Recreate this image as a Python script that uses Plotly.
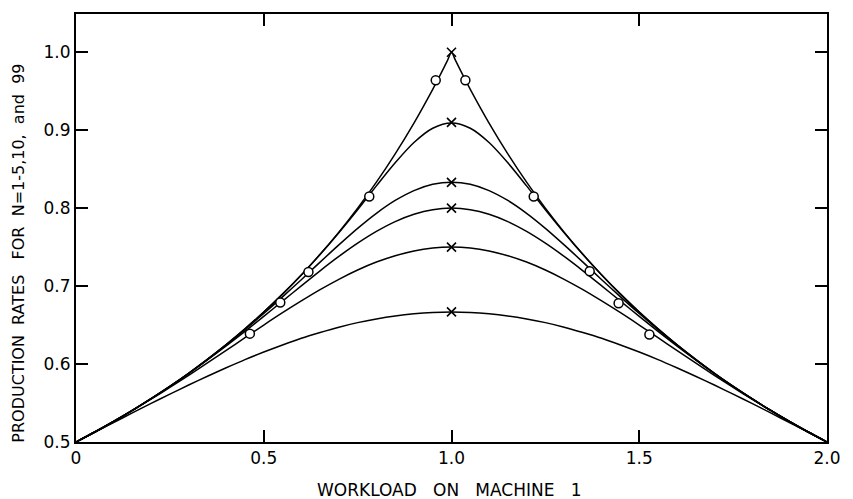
import plotly.graph_objects as go

# Workload on machine 1 (x) and production rates for each curve
workload = [0.0, 0.05, 0.1, 0.15, 0.2, 0.25, 0.3, 0.35, 0.4, 0.45, 0.5, 0.55, 0.6, 0.65, 0.7,
            0.75, 0.8, 0.85, 0.9, 0.95, 1.0, 1.05, 1.1, 1.15, 1.2, 1.25, 1.3, 1.35, 1.4, 1.45,
            1.5, 1.55, 1.6, 1.65, 1.7, 1.75, 1.8, 1.85, 1.9, 1.95, 2.0]

rate_a = [0.5, 0.5125, 0.5249, 0.5373, 0.5495, 0.5614, 0.5731, 0.5844, 0.5952, 0.6057, 0.6154,
          0.6245, 0.6331, 0.6405, 0.6473, 0.6531, 0.6579, 0.6617, 0.6644, 0.6661, 0.6667,
          0.6661, 0.6644, 0.6617, 0.6579, 0.6531, 0.6473, 0.6405, 0.6331, 0.6245, 0.6154,
          0.6057, 0.5952, 0.5844, 0.5731, 0.5614, 0.5495, 0.5373, 0.5249, 0.5125, 0.5]
rate_b = [0.5, 0.5128, 0.5262, 0.5405, 0.5549, 0.5700, 0.5856, 0.6015, 0.6176, 0.6338, 0.6500,
          0.6658, 0.6809, 0.6954, 0.7087, 0.7206, 0.7308, 0.7390, 0.7451, 0.7488, 0.7500,
          0.7488, 0.7451, 0.7390, 0.7308, 0.7206, 0.7087, 0.6954, 0.6809, 0.6658, 0.6500,
          0.6338, 0.6176, 0.6015, 0.5856, 0.5700, 0.5549, 0.5405, 0.5262, 0.5128, 0.5]
rate_c = [0.5, 0.5128, 0.5263, 0.5405, 0.5555, 0.5712, 0.5877, 0.6052, 0.6232, 0.6419, 0.6612,
          0.6807, 0.7003, 0.7196, 0.7380, 0.7550, 0.7701, 0.7827, 0.7921, 0.7980, 0.8000,
          0.7980, 0.7921, 0.7827, 0.7701, 0.7550, 0.7380, 0.7196, 0.7003, 0.6807, 0.6612,
          0.6419, 0.6232, 0.6052, 0.5877, 0.5712, 0.5555, 0.5405, 0.5263, 0.5128, 0.5]
rate_d = [0.5, 0.5128, 0.5263, 0.5405, 0.5556, 0.5714, 0.5881, 0.6059, 0.6245, 0.6442, 0.6648,
          0.6862, 0.7082, 0.7307, 0.7528, 0.7740, 0.7933, 0.8098, 0.8225, 0.8306, 0.8333,
          0.8306, 0.8225, 0.8098, 0.7933, 0.7740, 0.7528, 0.7307, 0.7082, 0.6862, 0.6648,
          0.6442, 0.6245, 0.6059, 0.5881, 0.5714, 0.5556, 0.5405, 0.5263, 0.5128, 0.5]
rate_e = [0.5, 0.5128, 0.5263, 0.5405, 0.5556, 0.5714, 0.5882, 0.6061, 0.6250, 0.6452, 0.6667,
          0.6897, 0.7142, 0.7405, 0.7685, 0.7980, 0.8285, 0.8581, 0.8841, 0.9024, 0.9091,
          0.9024, 0.8841, 0.8581, 0.8285, 0.7980, 0.7685, 0.7405, 0.7142, 0.6897, 0.6667,
          0.6452, 0.6250, 0.6061, 0.5882, 0.5714, 0.5556, 0.5405, 0.5263, 0.5128, 0.5]

# Top curve (needs extra points near the sharp peak)
workload_top = [0.0, 0.05, 0.1, 0.15, 0.2, 0.25, 0.3, 0.35, 0.4, 0.45, 0.5, 0.55, 0.6, 0.65, 0.7,
                0.75, 0.8, 0.85, 0.9, 0.95, 0.97, 0.99, 1.0, 1.01, 1.03, 1.05, 1.1, 1.15, 1.2,
                1.25, 1.3, 1.35, 1.4, 1.45, 1.5, 1.55, 1.6, 1.65, 1.7, 1.75, 1.8, 1.85, 1.9,
                1.95, 2.0]
rate_top = [0.5, 0.5128, 0.5263, 0.5405, 0.5556, 0.5714, 0.5882, 0.6061, 0.6250, 0.6452, 0.6667,
            0.6897, 0.7143, 0.7407, 0.7692, 0.8000, 0.8333, 0.8696, 0.9091, 0.9524, 0.9709,
            0.9901, 1.0, 0.9901, 0.9709, 0.9524, 0.9091, 0.8696, 0.8333, 0.8000, 0.7692,
            0.7407, 0.7143, 0.6897, 0.6667, 0.6452, 0.6250, 0.6061, 0.5882, 0.5714, 0.5556,
            0.5405, 0.5263, 0.5128, 0.5]

# Peak markers (x)
peak_x = [1.0, 1.0, 1.0, 1.0, 1.0, 1.0]
peak_y = [0.667, 0.75, 0.80, 0.833, 0.91, 1.0]

# Open circle markers
circle_x = [0.463, 0.544, 0.619, 0.781, 0.958, 1.037, 1.219, 1.368, 1.445, 1.527]
circle_y = [0.639, 0.679, 0.718, 0.815, 0.964, 0.964, 0.815, 0.719, 0.678, 0.638]

x_ticks = [0, 0.5, 1.0, 1.5, 2.0]
x_tick_text = ["0", "0.5", "1.0", "1.5", "2.0"]
y_ticks = [0.5, 0.6, 0.7, 0.8, 0.9, 1.0]
y_tick_text = ["0.5", "0.6", "0.7", "0.8", "0.9", "1.0"]

FONT = "DejaVu Sans"
line_style = dict(color="black", width=1.5, shape="spline", smoothing=0.8)

fig = go.Figure()
for ys in [rate_a, rate_b, rate_c, rate_d, rate_e]:
    fig.add_trace(go.Scatter(x=workload, y=ys, mode="lines", line=line_style,
                             showlegend=False, hoverinfo="skip"))
fig.add_trace(go.Scatter(x=workload_top, y=rate_top, mode="lines", line=line_style,
                         showlegend=False, hoverinfo="skip"))
fig.add_trace(go.Scatter(x=peak_x, y=peak_y, mode="markers",
                         marker=dict(symbol="x-thin", size=9, line=dict(color="black", width=1.6)),
                         showlegend=False))
fig.add_trace(go.Scatter(x=circle_x, y=circle_y, mode="markers",
                         marker=dict(symbol="circle", size=9, color="white",
                                     line=dict(color="black", width=1.5)),
                         showlegend=False))

axis_common = dict(showgrid=False, zeroline=False, showline=True, linecolor="black",
                   linewidth=2, mirror="ticks", ticks="inside", ticklen=12, tickwidth=1.6,
                   tickcolor="black", tickfont=dict(family=FONT, size=17, color="black"))

fig.update_xaxes(range=[0, 2.0], tickvals=x_ticks, ticktext=x_tick_text, **axis_common)
fig.update_yaxes(range=[0.5, 1.049], tickvals=y_ticks, ticktext=y_tick_text, **axis_common)

fig.add_annotation(text="WORKLOAD\u00a0\u00a0\u00a0ON\u00a0\u00a0\u00a0MACHINE\u00a0\u00a0\u00a01",
                   xref="paper", yref="paper",
                   x=0.4976, y=0, yshift=-48, xanchor="center", yanchor="middle",
                   showarrow=False, font=dict(family=FONT, size=17, color="black"))
fig.add_annotation(text="PRODUCTION\u00a0\u00a0RATES\u00a0\u00a0\u00a0FOR\u00a0\u00a0N=1-5,10,\u00a0\u00a0and\u00a0\u00a099",
                   xref="paper", yref="paper",
                   x=0, xshift=-57, y=0.44, xanchor="center", yanchor="middle", textangle=-90,
                   showarrow=False, font=dict(family=FONT, size=16, color="black"))

fig.update_layout(width=853, height=499, margin=dict(l=76, r=16, t=13, b=57),
                  plot_bgcolor="white", paper_bgcolor="white")

fig.write_html("out.html")
